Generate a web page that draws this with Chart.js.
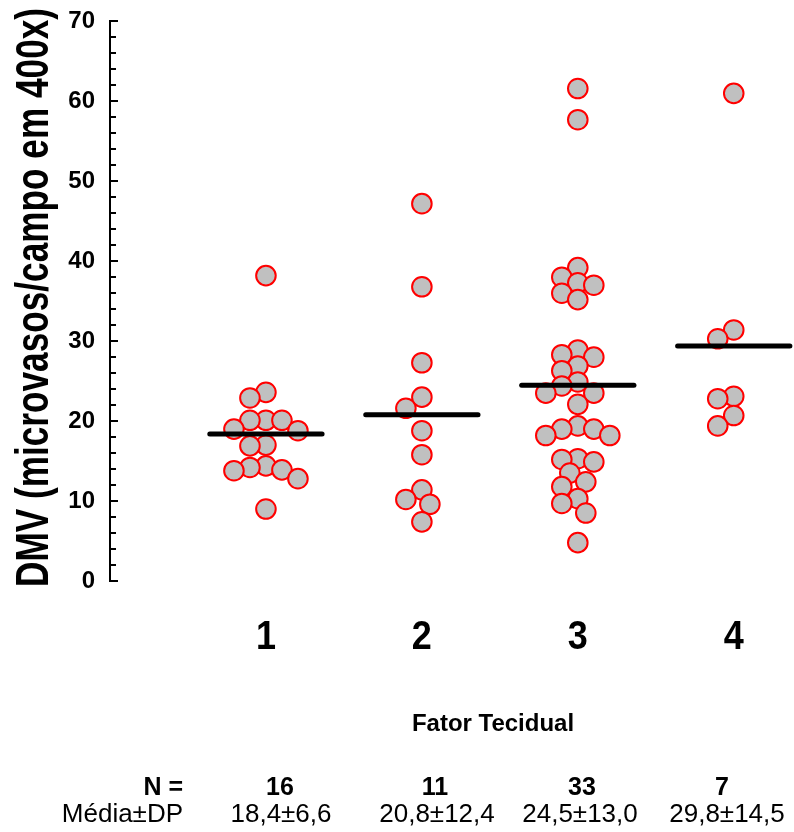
<!DOCTYPE html>
<html lang="pt">
<head>
<meta charset="UTF-8">
<title>DMV por Fator Tecidual</title>
<script src="https://cdn.jsdelivr.net/npm/chart.js"></script>
<style>
    html, body { margin: 0; padding: 0; background: #fff; }
    #wrap { width: 794px; height: 832px; }
</style>
</head>
<body>
<div id="wrap"><canvas id="chart" width="794" height="832"></canvas></div>
<script>
// categorias (Fator Tecidual) e valores
const grupos = ['1', '2', '3', '4'];
const grupo1 = [38.2, 23.6, 22.9, 20.1, 20.1, 20.1, 19.0, 18.8, 17.0, 16.9, 14.4, 14.2, 13.9, 13.8, 12.8, 9.0];
const grupo2 = [47.2, 36.8, 27.3, 23.0, 21.6, 18.8, 15.8, 11.4, 10.2, 9.6, 7.4];
const grupo3 = [61.6, 57.7, 39.2, 38.0, 37.3, 37.0, 36.0, 35.2, 28.9, 28.3, 28.0, 26.9, 26.3, 24.9, 24.4,
    23.5, 23.5, 22.1, 19.4, 19.0, 19.0, 18.2, 18.2, 15.3, 15.2, 14.9, 13.5, 12.4, 11.8, 10.3, 9.7, 8.5, 4.8];
const grupo4 = [61.0, 31.4, 30.3, 23.1, 22.8, 20.7, 19.4];
const medias = [18.4, 20.8, 24.5, 29.4];
const nLabels = ['16', '11', '33', '7'];
const mediaDP = ['18,4±6,6', '20,8±12,4', '24,5±13,0', '29,8±14,5'];
const yTicks = [0, 10, 20, 30, 40, 50, 60, 70];

const valores = [grupo1, grupo2, grupo3, grupo4];
const FONT = "'Liberation Sans', Arial, sans-serif";

// layout of the table under the plot (pixel centres)
const nX = [280, 435, 582, 722];
const statX = [281, 437, 580, 727];

const LANE = 8;      // px step of the swarm
const MIN_DIST = 15; // px between point centres

const meanDatasets = medias.map((m, i) => ({
    type: 'line',
    data: [{ x: i + 1 - 0.36, y: m }, { x: i + 1 + 0.36, y: m }],
    borderColor: '#000',
    borderWidth: 5,
    borderCapStyle: 'round',
    pointRadius: 0,
    showLine: true,
    order: 0
}));

const pointDatasets = valores.map((vals, i) => ({
    type: 'scatter',
    data: vals.map(v => ({ x: i + 1, y: v })),
    backgroundColor: '#c0c0c0',
    borderColor: '#ff0000',
    borderWidth: 2,
    pointRadius: 9.8,
    order: 1
}));

const decor = {
    id: 'decor',
    afterDraw(chart) {
        const ctx = chart.ctx;
        const ys = chart.scales.y, xs = chart.scales.x;
        const ax = chart.chartArea.left;
        ctx.save();
        // inward tick marks
        ctx.strokeStyle = '#000';
        ctx.lineWidth = 2;
        for (let v = 0; v <= 70; v += 2) {
            const py = Math.round(ys.getPixelForValue(v));
            const len = yTicks.includes(v) ? 8 : 6;
            ctx.beginPath();
            ctx.moveTo(ax, py);
            ctx.lineTo(ax + len, py);
            ctx.stroke();
        }
        ctx.fillStyle = '#000';

        // y title (condensed)
        ctx.save();
        ctx.font = 'bold 46px ' + FONT;
        const title = 'DMV (microvasos/campo em 400x)';
        const w = ctx.measureText(title).width;
        ctx.translate(48, 297.5);
        ctx.rotate(-Math.PI / 2);
        ctx.scale(579 / w, 1);
        ctx.textAlign = 'center';
        ctx.textBaseline = 'alphabetic';
        ctx.fillText(title, 0, 0);
        ctx.restore();

        // category labels
        ctx.font = 'bold 40px ' + FONT;
        ctx.textAlign = 'center';
        ctx.textBaseline = 'alphabetic';
        grupos.forEach((g, i) => {
            ctx.save();
            ctx.translate(xs.getPixelForValue(i + 1), 649);
            ctx.scale(0.9, 1);
            ctx.fillText(g, 0, 0);
            ctx.restore();
        });

        ctx.font = 'bold 24px ' + FONT;
        ctx.fillText('Fator Tecidual', 493, 731);

        // N and mean±SD rows
        ctx.font = 'bold 25px ' + FONT;
        ctx.textAlign = 'right';
        ctx.fillText('N =', 183, 795);
        ctx.textAlign = 'center';
        nLabels.forEach((t, i) => ctx.fillText(t, nX[i], 795));

        ctx.font = '26px ' + FONT;
        ctx.textAlign = 'right';
        ctx.fillText('Média±DP', 183, 822);
        ctx.textAlign = 'center';
        mediaDP.forEach((t, i) => ctx.fillText(t, statX[i], 822));
        ctx.restore();
    }
};

const chart = new Chart(document.getElementById('chart'), {
    type: 'scatter',
    data: { datasets: meanDatasets.concat(pointDatasets) },
    options: {
        responsive: false,
        animation: false,
        layout: { autoPadding: false, padding: { top: 20, right: 1, bottom: 251, left: 0 } },
        plugins: { legend: { display: false }, tooltip: { enabled: false } },
        scales: {
            x: { type: 'linear', min: 0, max: 4.38, display: false },
            y: {
                min: 0,
                max: 70,
                afterFit(s) { s.width = 110; },
                grid: { display: false },
                border: { display: true, color: '#000', width: 2 },
                ticks: {
                    stepSize: 2,
                    autoSkip: false,
                    padding: 7,
                    color: '#000',
                    font: { family: FONT, size: 24, weight: 'bold' },
                    callback: v => yTicks.includes(v) ? v : ''
                }
            }
        }
    },
    plugins: [decor]
});

// simple swarm: spread overlapping points sideways, in pixel space
function swarm(vals, cx) {
    const xs = chart.scales.x, ys = chart.scales.y;
    const unit = xs.getPixelForValue(1) - xs.getPixelForValue(0);
    const placed = [];
    const out = new Array(vals.length);
    const idx = vals.map((v, i) => i).sort((a, b) => vals[b] - vals[a]);
    idx.forEach(i => {
        const py = ys.getPixelForValue(vals[i]);
        for (let k = 0; k < 30; k++) {
            const off = (k % 2 ? -1 : 1) * Math.ceil(k / 2) * LANE;
            if (placed.every(p => Math.hypot(p[0] - off, p[1] - py) >= MIN_DIST)) {
                placed.push([off, py]);
                out[i] = { x: cx + off / unit, y: vals[i] };
                break;
            }
        }
    });
    return out;
}

valores.forEach((vals, i) => {
    chart.data.datasets[meanDatasets.length + i].data = swarm(vals, i + 1);
});
chart.update('none');
</script>
</body>
</html>
